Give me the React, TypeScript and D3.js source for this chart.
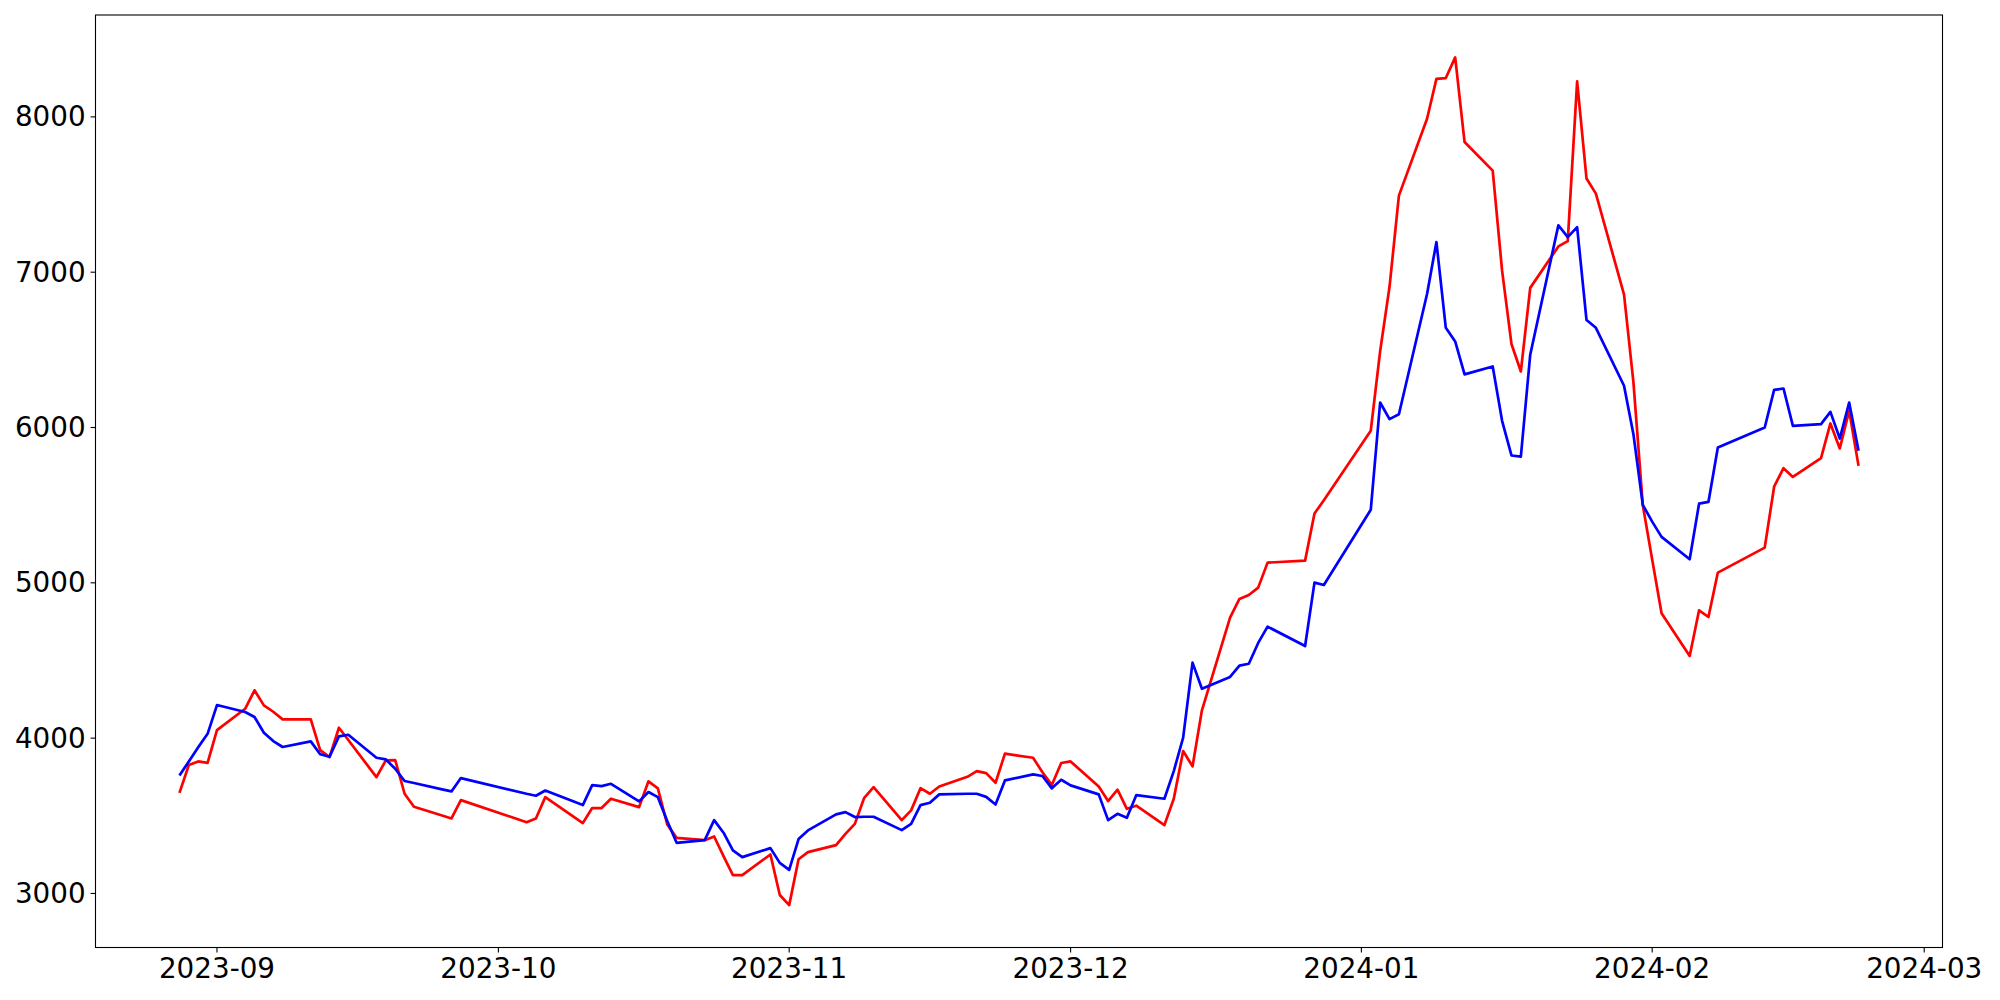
import React from "react";
import * as d3 from "d3";

const dates: string[] = [
  "2023-08-28","2023-08-29","2023-08-30","2023-08-31",
  "2023-09-01","2023-09-04","2023-09-05","2023-09-06","2023-09-07","2023-09-08",
  "2023-09-11","2023-09-12","2023-09-13","2023-09-14","2023-09-15",
  "2023-09-18","2023-09-19","2023-09-20","2023-09-21","2023-09-22",
  "2023-09-25","2023-09-26","2023-09-27",
  "2023-10-04","2023-10-05","2023-10-06",
  "2023-10-10","2023-10-11","2023-10-12","2023-10-13",
  "2023-10-16","2023-10-17","2023-10-18","2023-10-19","2023-10-20",
  "2023-10-23","2023-10-24","2023-10-25","2023-10-26","2023-10-27",
  "2023-10-30","2023-10-31","2023-11-01","2023-11-02","2023-11-03",
  "2023-11-06","2023-11-07","2023-11-08","2023-11-09","2023-11-10",
  "2023-11-13","2023-11-14","2023-11-15","2023-11-16","2023-11-17",
  "2023-11-20","2023-11-21","2023-11-22","2023-11-23","2023-11-24",
  "2023-11-27","2023-11-28","2023-11-29","2023-11-30","2023-12-01",
  "2023-12-04","2023-12-05","2023-12-06","2023-12-07","2023-12-08",
  "2023-12-11","2023-12-12","2023-12-13","2023-12-14","2023-12-15",
  "2023-12-18","2023-12-19","2023-12-20","2023-12-21","2023-12-22",
  "2023-12-26","2023-12-27","2023-12-28",
  "2024-01-02","2024-01-03","2024-01-04","2024-01-05",
  "2024-01-08","2024-01-09","2024-01-10","2024-01-11","2024-01-12",
  "2024-01-15","2024-01-16","2024-01-17","2024-01-18","2024-01-19",
  "2024-01-22","2024-01-23","2024-01-24","2024-01-25","2024-01-26",
  "2024-01-29","2024-01-30","2024-01-31","2024-02-01","2024-02-02",
  "2024-02-05","2024-02-06","2024-02-07","2024-02-08",
  "2024-02-13","2024-02-14","2024-02-15","2024-02-16",
  "2024-02-19","2024-02-20","2024-02-21","2024-02-22","2024-02-23",
];

const redValues: number[] = [
  3648, 3827, 3850, 3841,
  4052, 4189, 4308, 4211, 4170, 4121,
  4121, 3923, 3878, 4067, 3988,
  3749, 3857, 3859, 3642, 3558,
  3502, 3483, 3601,
  3459, 3483, 3620,
  3453, 3550, 3550, 3610,
  3556, 3722, 3677, 3444, 3358,
  3343, 3367, 3240, 3118, 3118,
  3251, 2990, 2925, 3220, 3266,
  3311, 3384, 3448, 3616, 3685,
  3472, 3535, 3678, 3642, 3689,
  3751, 3788, 3775, 3713, 3900,
  3874, 3780, 3698, 3840, 3850,
  3689, 3595, 3668, 3545, 3565,
  3440, 3610, 3917, 3818, 4179,
  4776, 4896, 4922, 4969, 5130,
  5143, 5446, 5532,
  5979, 6492, 6906, 7493,
  7988, 8245, 8250, 8383, 7838,
  7654, 7010, 6538, 6361, 6899,
  7166, 7200, 8229, 7603, 7506,
  6856, 6292, 5500, 5150, 4804,
  4529, 4823, 4780, 5066,
  5227, 5619, 5738, 5682,
  5803, 6026, 5865, 6108, 5753,
];

const blueValues: number[] = [
  3760, 3850, 3941, 4028,
  4213, 4168, 4136, 4035, 3981, 3943,
  3979, 3896, 3880, 4011, 4022,
  3874, 3863, 3803, 3724, 3711,
  3670, 3657, 3743,
  3642, 3629, 3663,
  3569, 3698, 3691, 3706,
  3593, 3653, 3620, 3466, 3326,
  3343, 3472, 3391, 3277, 3234,
  3292, 3197, 3152, 3350, 3406,
  3509, 3524, 3492, 3494, 3494,
  3408, 3448, 3569, 3584, 3638,
  3642, 3642, 3622, 3573, 3728,
  3767, 3756, 3677, 3732, 3696,
  3638, 3472, 3513, 3487, 3633,
  3610, 3788, 4003, 4486, 4318,
  4394, 4467, 4479, 4613, 4718,
  4593, 5001, 4986,
  5470, 6161, 6054, 6085,
  6860, 7194, 6642, 6554, 6342,
  6393, 6043, 5820, 5813, 6469,
  7302, 7226, 7290, 6692, 6642,
  6269, 5957, 5502, 5394, 5296,
  5152, 5510, 5521, 5871,
  6000, 6242, 6251, 6011,
  6022, 6101, 5929, 6161, 5850,
];

const yTicks: number[] = [3000, 4000, 5000, 6000, 7000, 8000];
const xTickLabels: string[] = ["2023-09", "2023-10", "2023-11", "2023-12", "2024-01", "2024-02", "2024-03"];

const W = 2000;
const H = 1000;
const LEFT = 95.5;
const RIGHT = 1942.5;
const TOP = 15;
const BOTTOM = 947.5;
const FONT = "'DejaVu Sans', sans-serif";
const FS = 27.8;

export default function App() {
  React.useEffect(() => {
    document.body.style.margin = "0";
  }, []);

  const parse = d3.utcParse("%Y-%m-%d");
  const xs = dates.map((d) => parse(d) as Date);
  const [x0, x1] = d3.extent(xs) as [Date, Date];
  const span = x1.getTime() - x0.getTime();
  const x = d3
    .scaleUtc()
    .domain([new Date(x0.getTime() - 0.05 * span), new Date(x1.getTime() + 0.05 * span)])
    .range([LEFT, RIGHT]);

  const all = redValues.concat(blueValues);
  const [y0, y1] = d3.extent(all) as [number, number];
  const yr = y1 - y0;
  const y = d3.scaleLinear().domain([y0 - 0.05 * yr, y1 + 0.05 * yr]).range([BOTTOM, TOP]);

  const line = d3
    .line<number>()
    .x((_, i) => x(xs[i]))
    .y((v) => y(v));

  const monthParse = d3.utcParse("%Y-%m");

  return (
    <div style={{ position: "absolute", left: 0, top: 0 }}>
      <svg width={W} height={H} style={{ display: "block", background: "#fff" }}>
        <path d={line(redValues) || ""} fill="none" stroke="#ff0000" strokeWidth={2.7} strokeLinejoin="round" />
        <path d={line(blueValues) || ""} fill="none" stroke="#0000ff" strokeWidth={2.7} strokeLinejoin="round" />
        <rect x={LEFT} y={TOP} width={RIGHT - LEFT} height={BOTTOM - TOP} fill="none" stroke="#000" strokeWidth={1.1} />
        {yTicks.map((t) => (
          <g key={t}>
            <line x1={LEFT - 4.9} x2={LEFT} y1={y(t)} y2={y(t)} stroke="#000" strokeWidth={1.1} />
            <text x={LEFT - 9.8} y={y(t)} textAnchor="end" dominantBaseline="central" fontFamily={FONT} fontSize={FS} fill="#000">
              {t}
            </text>
          </g>
        ))}
        {xTickLabels.map((lbl) => {
          const px = x(monthParse(lbl) as Date);
          return (
            <g key={lbl}>
              <line x1={px} x2={px} y1={BOTTOM} y2={BOTTOM + 4.9} stroke="#000" strokeWidth={1.1} />
              <text x={px} y={BOTTOM + 9.8} textAnchor="middle" dominantBaseline="hanging" fontFamily={FONT} fontSize={FS} fill="#000">
                {lbl}
              </text>
            </g>
          );
        })}
      </svg>
    </div>
  );
}
